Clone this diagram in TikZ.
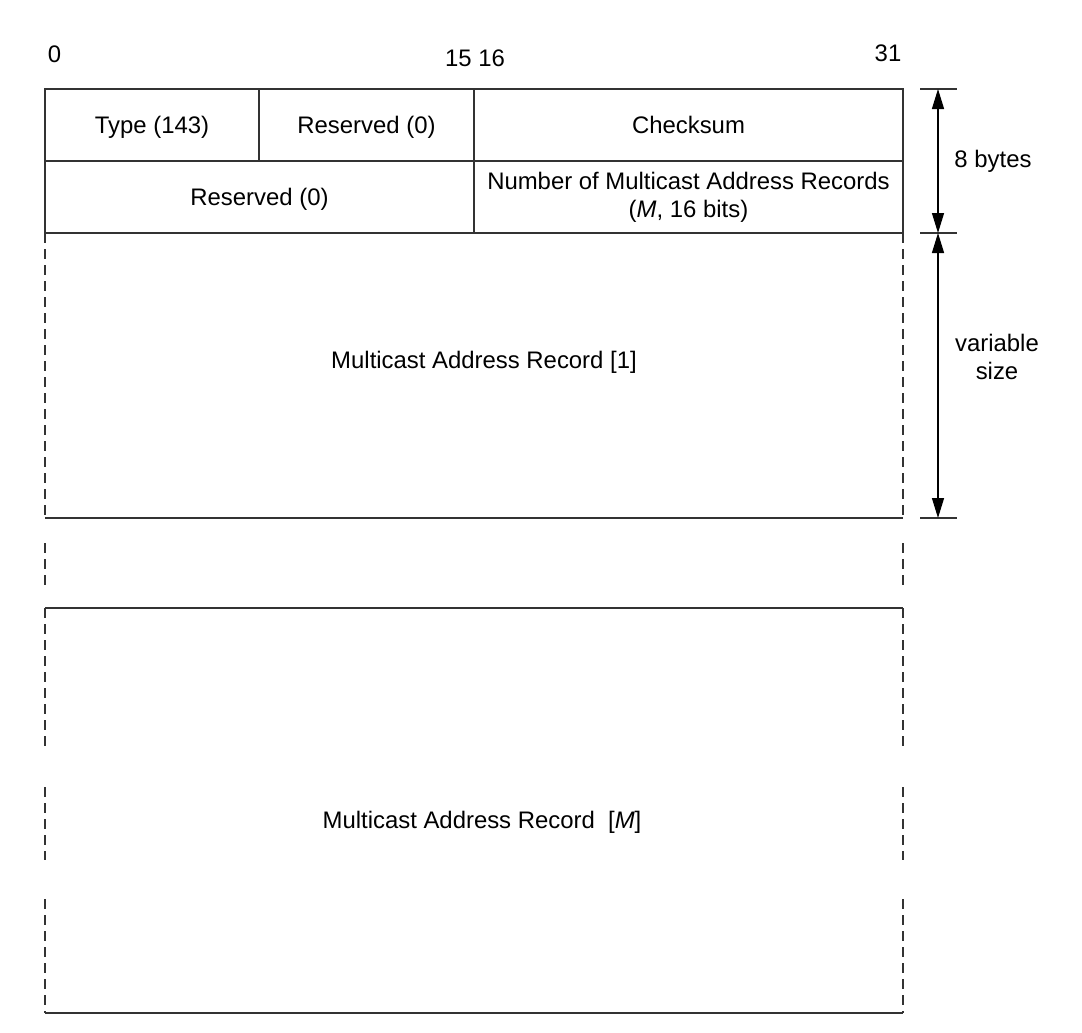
\documentclass[tikz,border=0pt]{standalone}
\usepackage{fontspec}
\setmainfont{Liberation Sans}
\usetikzlibrary{arrows.meta}
\begin{document}
\begin{tikzpicture}[x=1pt,y=-1pt,
  ln/.style={draw=black!80, line width=1.3pt},
  dsh/.style={draw=black!80, line width=1.3pt, dash pattern=on 10pt off 6pt},
  lbl/.style={font=\fontsize{23.9}{28}\selectfont, inner sep=0pt},
  cell/.style={ln, lbl, minimum height=72pt, anchor=center},
  one/.style={text height=17pt, text depth=0pt},
  dimarrow/.style={draw=black, line width=1.3pt, {Triangle[length=20pt,width=12pt]}-{Triangle[length=20pt,width=12pt]}}]
\useasboundingbox (0,0) rectangle (1082,1033);

% bit labels
\node[lbl] (b0) at (54.5,54) {0};
\node[lbl] (b1516) at (475,58) {15 16};
\node[lbl] (b31) at (888,53) {31};

% header rows
\node[cell, one, minimum width=214pt] (type) at (152,125) {Type (143)};
\node[cell, one, minimum width=215pt] (res1) at (366.5,125) {Reserved (0)};
\node[cell, one, minimum width=429pt] (cks) at (688.5,125) {Checksum};
\node[cell, one, minimum width=429pt] (res2) at (259.5,197) {Reserved (0)};
\node[cell, minimum width=429pt, align=center] (num) at (688.5,197) {Number of Multicast Address Records\\(\textit{M}, 16 bits)};

% record 1
\coordinate (r1tl) at (45,233);
\coordinate (r1tr) at (903,233);
\coordinate (r1bl) at (45,518);
\coordinate (r1br) at (903,518);
\draw[ln] (r1bl) -- (r1br);
\draw[dsh] (r1tl) -- (r1bl);
\draw[dsh] (r1tr) -- (r1br);
\node[lbl] (rec1) at (484,362) {Multicast Address Record [1]};

% gap
\coordinate (g1t) at (45,543);
\coordinate (g1b) at (45,588);
\coordinate (g2t) at (903,543);
\coordinate (g2b) at (903,588);
\draw[dsh] (g1t) -- (g1b);
\draw[dsh] (g2t) -- (g2b);

% record M
\coordinate (rMtl) at (45,608);
\coordinate (rMtr) at (903,608);
\coordinate (rMbl) at (45,1013);
\coordinate (rMbr) at (903,1013);
\draw[ln] (rMtl) -- (rMtr);
\draw[ln] (rMbl) -- (rMbr);
\foreach \xx in {45,903}{
  \draw[dsh] (\xx,608) -- (\xx,750);
  \draw[dsh] (\xx,787) -- (\xx,860);
  \draw[dsh] (\xx,899) -- (\xx,1013);
}
\node[lbl] (recM) at (482,822) {Multicast Address Record\ \ [\textit{M}]};

% dimension ticks
\coordinate (t1a) at (920,89);  \coordinate (t1b) at (957,89);
\coordinate (t2a) at (920,233); \coordinate (t2b) at (957,233);
\coordinate (t3a) at (920,518); \coordinate (t3b) at (957,518);
\draw[ln] (t1a) -- (t1b);
\draw[ln] (t2a) -- (t2b);
\draw[ln] (t3a) -- (t3b);
\coordinate (d1) at (938,89);
\coordinate (d2) at (938,233);
\coordinate (d3) at (938,518);
\draw[dimarrow] (d1) -- (d2);
\draw[dimarrow] (d2) -- (d3);
\node[lbl] (bytes) at (993,161) {8 bytes};
\node[lbl, align=center] (vsize) at (997,357) {variable\\size};
\end{tikzpicture}
\end{document}
